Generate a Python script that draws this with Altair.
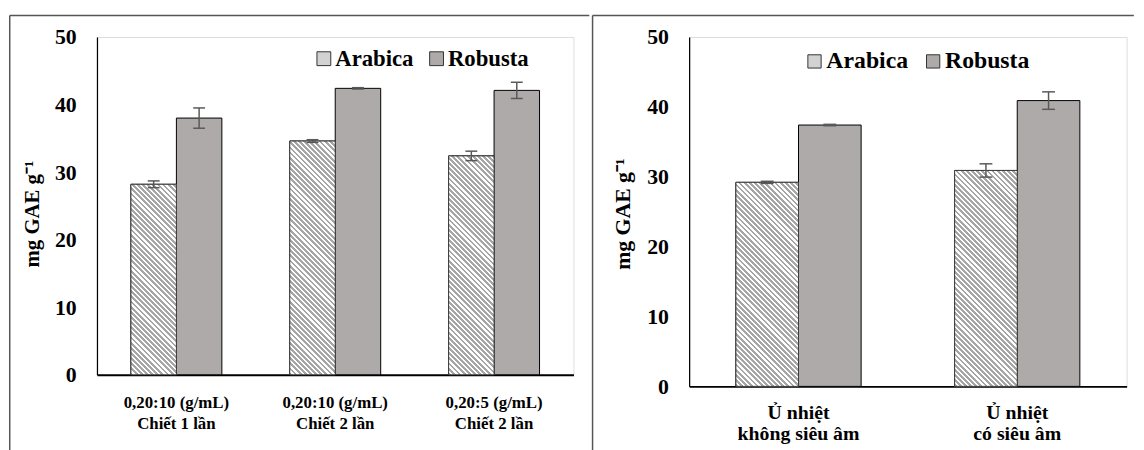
import altair as alt
import pandas as pd

FONT = "Liberation Serif"

# ---------------- data ----------------
varieties = ["Arabica", "Robusta"]

left_cats = ["0,20:10 (g/mL)|Chiết 1 lần", "0,20:10 (g/mL)|Chiết 2 lần", "0,20:5 (g/mL)|Chiết 2 lần"]
left_arabica = [28.2, 34.6, 32.4]
left_arabica_err = [0.5, 0.2, 0.7]
left_robusta = [38.0, 42.4, 42.1]
left_robusta_err = [1.5, 0.1, 1.2]

right_cats = ["Ủ nhiệt|không siêu âm", "Ủ nhiệt|có siêu âm"]
right_arabica = [29.2, 30.9]
right_arabica_err = [0.15, 0.95]
right_robusta = [37.4, 40.9]
right_robusta_err = [0.1, 1.25]

y_ticks = [0, 10, 20, 30, 40, 50]
y_title = "mg GAE g⁻¹"

ROBUSTA_FILL = "#AEAAAA"
ARABICA_SWATCH = "#D2D2D2"
STRIPE = "#A6A6A6"
ERR_COLOR = "#595959"
BOX_COLOR = "#555555"

P_IN = 0.4275
P_OUT = P_IN / 2


def make_df(cats, a, ae, r, re):
    rows = []
    for i, c in enumerate(cats):
        rows.append({"cat": c, "variety": "Arabica", "value": a[i], "lo": a[i] - ae[i], "hi": a[i] + ae[i]})
        rows.append({"cat": c, "variety": "Robusta", "value": r[i], "lo": r[i] - re[i], "hi": r[i] + re[i]})
    return pd.DataFrame(rows)


def hatch(w, h, period=5.2, frac=0.55, c1=STRIPE, c2="#FFFFFF"):
    s = w + h
    t = s / (w * w + h * h)
    x2 = w * t
    y2 = 1 - h * t
    d = period / s
    stops = []
    k = 0
    while k * d < 1:
        a = k * d
        b = min(a + d * frac, 1)
        c = min(a + d, 1)
        stops += [
            {"offset": round(a, 5), "color": c1},
            {"offset": round(b, 5), "color": c1},
            {"offset": round(b, 5), "color": c2},
            {"offset": round(c, 5), "color": c2},
        ]
        k += 1
    return {"gradient": "linear", "x1": 0, "y1": 1, "x2": round(x2, 6), "y2": round(y2, 6), "stops": stops}


def frame_rule(x1, x2, y1, y2):
    return alt.Chart(pd.DataFrame({"k": [0]})).mark_rule(
        color=BOX_COLOR, strokeWidth=1.5
    ).encode(x=alt.value(x1), x2=alt.value(x2), y=alt.value(y1), y2=alt.value(y2))


def panel(cats, a, ae, r, re, W, H, xlab_size, xlab_lh, xlab_pad, tick_size,
          title_size, title_x, title_y, leg_x, leg_y, leg_size, leg_sym, leg_colpad,
          cap, frames):
    df = make_df(cats, a, ae, r, re)
    yaxis = alt.Axis(
        values=y_ticks, grid=False, ticks=False, labelPadding=21,
        labelFont=FONT, labelFontWeight="bold", labelFontSize=tick_size, labelColor="black",
        title=y_title, titleFont=FONT, titleFontWeight="bold", titleFontSize=title_size,
        titleColor="black", titleAngle=270, titleAlign="center", titleBaseline="middle",
        titleX=title_x, titleY=title_y,
        domainColor="black", domainWidth=1.25,
    )
    yscale = alt.Scale(domain=[0, 50], nice=False, zero=True)
    xaxis = alt.Axis(
        title=None, labelAngle=0, labelExpr="split(datum.label, '|')",
        labelFont=FONT, labelFontWeight="bold", labelFontSize=xlab_size, labelColor="black",
        labelLineHeight=xlab_lh, labelPadding=xlab_pad, ticks=False,
        domainColor="black", domainWidth=2,
    )
    x = alt.X("cat:N", sort=cats, scale=alt.Scale(paddingInner=P_IN, paddingOuter=P_OUT), axis=xaxis)
    xo = alt.XOffset("variety:N", sort=varieties, scale=alt.Scale(paddingInner=0, paddingOuter=0))

    def Y(field):
        return alt.Y(f"{field}:Q", scale=yscale, axis=yaxis)

    bars = alt.Chart(df).mark_bar(stroke="black", strokeWidth=1).encode(
        x=x, xOffset=xo, y=Y("value"),
        fill=alt.Fill(
            "variety:N",
            scale=alt.Scale(domain=varieties, range=[ARABICA_SWATCH, ROBUSTA_FILL]),
            legend=alt.Legend(
                title=None, orient="none", legendX=leg_x, legendY=leg_y, direction="horizontal",
                labelFont=FONT, labelFontWeight="bold", labelFontSize=leg_size, labelColor="black",
                symbolType="square", symbolSize=leg_sym, symbolStrokeColor="#333333",
                symbolStrokeWidth=1, symbolOpacity=1, labelOffset=0, columnPadding=leg_colpad,
                padding=0,
            ),
        ),
    )

    step = W / (len(cats) - P_IN + 2 * P_OUT)
    bw = step * (1 - P_IN) / 2
    overlays = []
    for i, c in enumerate(cats):
        h = a[i] / 50 * H
        overlays.append(
            alt.Chart(df).transform_filter(
                (alt.datum.cat == c) & (alt.datum.variety == "Arabica")
            ).mark_bar(fill=hatch(bw, h), stroke="#3F3F3F", strokeWidth=1).encode(
                x=x, xOffset=xo, y=Y("value")
            )
        )

    err = alt.Chart(df).mark_rule(color=ERR_COLOR, strokeWidth=1.5).encode(
        x=x, xOffset=xo, y=Y("lo"), y2="hi:Q"
    )
    cap_lo = alt.Chart(df).mark_tick(orient="horizontal", size=cap, thickness=1.5, color=ERR_COLOR, opacity=1).encode(
        x=x, xOffset=xo, y=Y("lo")
    )
    cap_hi = alt.Chart(df).mark_tick(orient="horizontal", size=cap, thickness=1.5, color=ERR_COLOR, opacity=1).encode(
        x=x, xOffset=xo, y=Y("hi")
    )
    rules = [frame_rule(*f) for f in frames]
    return alt.layer(*rules, bars, *overlays, err, cap_lo, cap_hi).properties(width=W, height=H)


# left panel: plot origin at page (97, 33.3)
LW, LH = 482, 341.7
left = panel(
    left_cats, left_arabica, left_arabica_err, left_robusta, left_robusta_err,
    LW, LH, xlab_size=17, xlab_lh=21, xlab_pad=20, tick_size=22,
    title_size=21, title_x=-65, title_y=178.7,
    leg_x=218, leg_y=10.2, leg_size=23, leg_sym=196, leg_colpad=11, cap=12,
    frames=[(-88.25, -88.25, -21.8, 420), (-88.25, 498.0, -21.8, -21.8)],
)

# right panel: plot origin at page (694.2, 33.3)
RW, RH = 442.5, 353.4
right = panel(
    right_cats, right_arabica, right_arabica_err, right_robusta, right_robusta_err,
    RW, RH, xlab_size=20, xlab_lh=20.5, xlab_pad=17, tick_size=22,
    title_size=22, title_x=-67.2, title_y=178.7,
    leg_x=114.8, leg_y=12.7, leg_size=24, leg_sym=180, leg_colpad=13, cap=13,
    frames=[(-97.7, -97.7, -21.8, 420), (-97.7, 449.8, -21.8, -21.8)],
)

chart = alt.hconcat(left, right, spacing=0).resolve_scale(
    xOffset="independent", fill="independent"
).resolve_legend(fill="independent").properties(
    padding={"left": 0, "top": 2.75, "right": 0, "bottom": 0},
    background="white",
).configure_view(stroke="black", strokeWidth=1.25).configure(font=FONT)

chart.save("out.html", embed_options={"renderer": "svg", "actions": False})
